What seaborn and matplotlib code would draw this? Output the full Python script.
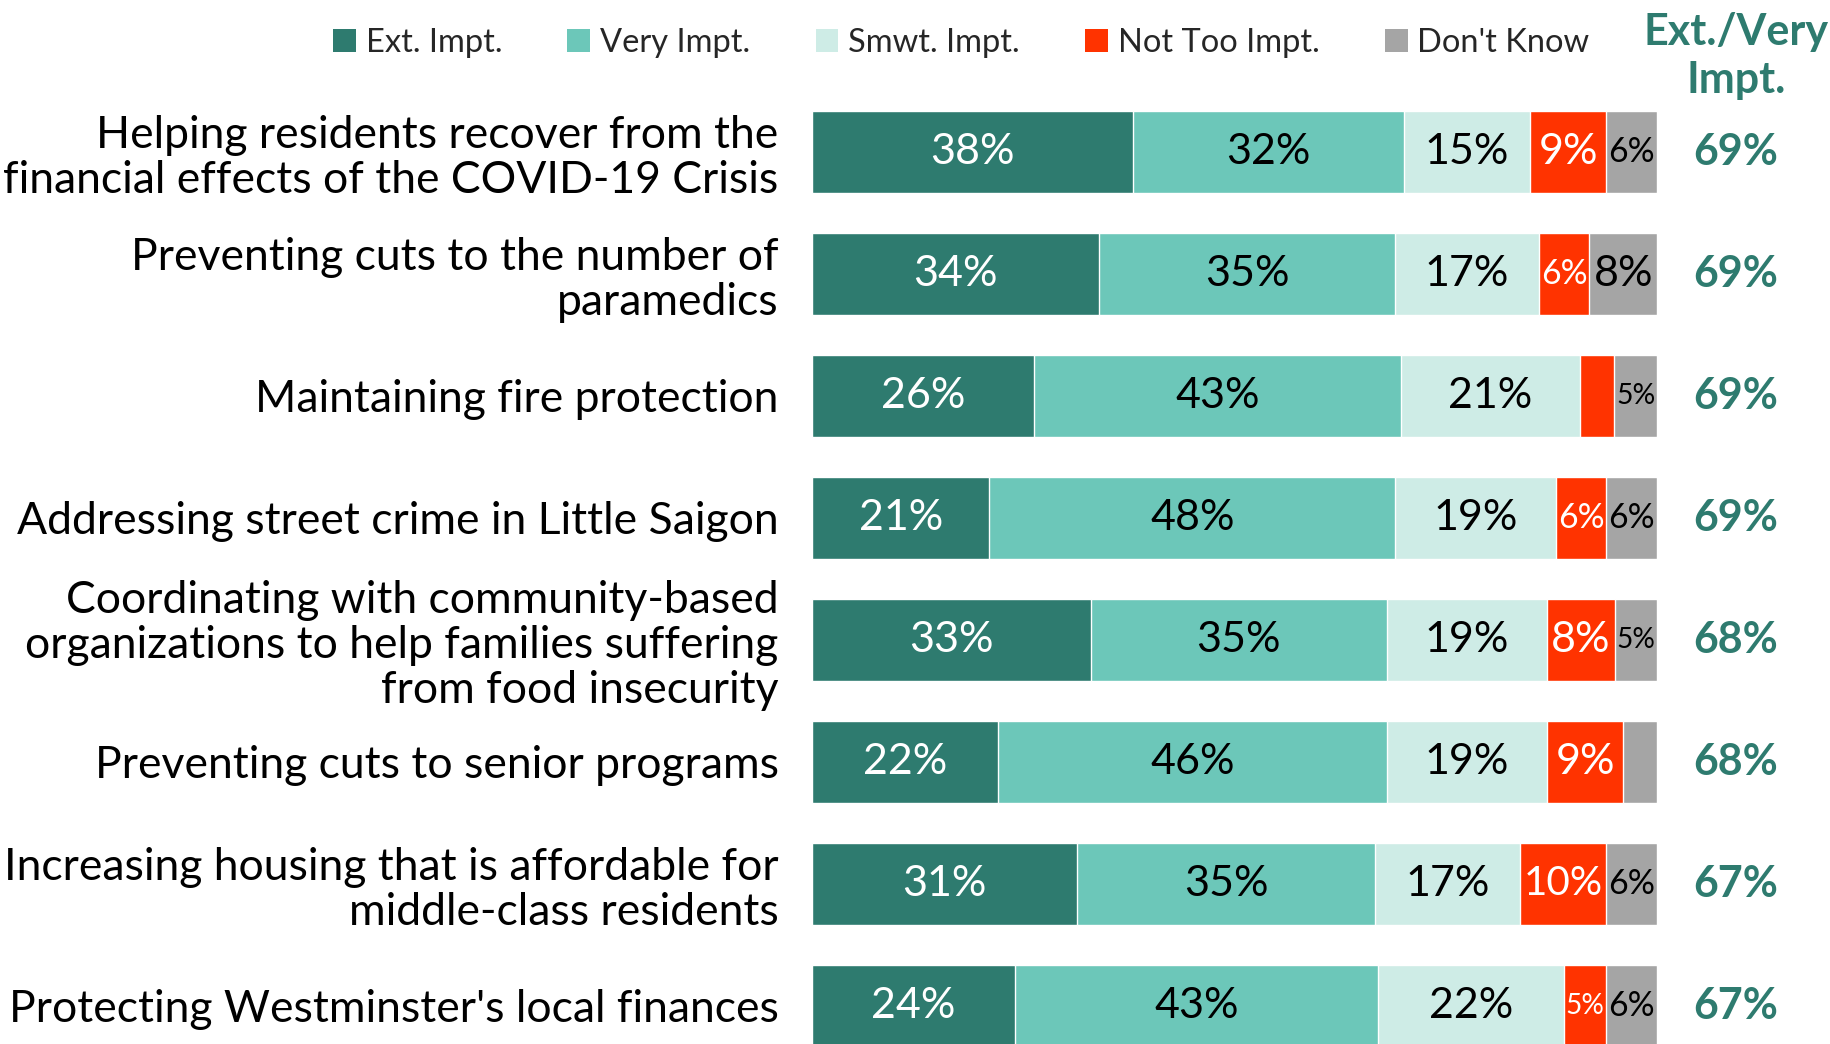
import numpy as np
import pandas as pd
import seaborn as sns
import matplotlib.pyplot as plt
import matplotlib.transforms as mtransforms
from matplotlib.patches import Patch

topics = [
    "Helping residents recover from the\nfinancial effects of the COVID-19 Crisis",
    "Preventing cuts to the number of\nparamedics",
    "Maintaining fire protection",
    "Addressing street crime in Little Saigon",
    "Coordinating with community-based\norganizations to help families suffering\nfrom food insecurity",
    "Preventing cuts to senior programs",
    "Increasing housing that is affordable for\nmiddle-class residents",
    "Protecting Westminster's local finances",
]
series = ["Ext. Impt.", "Very Impt.", "Smwt. Impt.", "Not Too Impt.", "Don't Know"]
ext_impt = [38, 34, 26, 21, 33, 22, 31, 24]
very_impt = [32, 35, 43, 48, 35, 46, 35, 43]
smwt_impt = [15, 17, 21, 19, 19, 19, 17, 22]
not_too = [9, 6, 4, 6, 8, 9, 10, 5]
dont_know = [6, 8, 5, 6, 5, 4, 6, 6]
ext_very = [69, 69, 69, 69, 68, 68, 67, 67]

colors = ["#2E7B6F", "#6CC7B9", "#CEECE6", "#FF3300", "#A5A5A5"]
text_colors = ["white", "black", "black", "white", "black"]
teal = "#2E7B6F"

sns.set_theme(style="white")
plt.rcParams['font.family'] = ['Lato', 'DejaVu Sans']

vals = np.array([ext_impt, very_impt, smwt_impt, not_too, dont_know], dtype=float)
share = vals / vals.sum(axis=0) * 100
cum = np.cumsum(share, axis=0)

fig = plt.figure(figsize=(18.31, 10.44), dpi=100)
ax = fig.add_axes([0.4435, -0.022, 0.4615, 0.935])

# draw longest cumulative first so shorter ones sit on top
for i in range(len(series) - 1, -1, -1):
    df = pd.DataFrame({"topic": topics, "cum": cum[i]})
    sns.barplot(data=df, y="topic", x="cum", orient="h", color=colors[i],
                saturation=1, width=0.67, errorbar=None, ax=ax)

ax.set_xlim(0, 100)
ax.set_ylim(7.5, -0.5)
ax.set_xlabel("")
ax.set_ylabel("")
ax.set_xticks([])
ax.tick_params(axis="y", length=0, pad=24, labelsize=32)
for lab in ax.get_yticklabels():
    lab.set_linespacing(1.12)
    lab.set_color("black")
sns.despine(ax=ax, left=True, bottom=True)

ax_px = 0.4615 * 1831
for r in range(len(topics)):
    left = 0
    for i in range(len(series)):
        w = share[i, r]
        v = int(vals[i, r])
        if v >= 5:
            txt = f"{v}%"
            seg_px = w / 100 * ax_px
            em = 0.58 * (len(txt) - 1) + 0.85
            fs = min(31, seg_px * 0.95 / (em * 1.389))
            ax.text(left + w / 2, r, txt, ha="center", va="center",
                    fontsize=fs, color=text_colors[i])
        left += w

# Ext./Very column sits in figure x, data y
trans = mtransforms.blended_transform_factory(fig.transFigure, ax.transData)
for r in range(len(topics)):
    ax.text(1736 / 1831, r, f"{ext_very[r]}%", transform=trans, ha="center", va="center",
            fontsize=31, fontweight="bold", color=teal)

fig.text(1736 / 1831, 1 - 56 / 1044, "Ext./Very\nImpt.", ha="center", va="center",
         fontsize=31, fontweight="bold", color=teal, linespacing=1.25)

handles = [Patch(facecolor=c, edgecolor="none", label=s) for c, s in zip(colors, series)]
fig.legend(handles=handles, loc="center", bbox_to_anchor=(0.525, 1 - 43 / 1044),
           ncol=5, frameon=False, fontsize=23.5, handlelength=0.7, handleheight=0.7,
           handletextpad=0.3, columnspacing=2.0)

fig.savefig("out.png", dpi=100)
